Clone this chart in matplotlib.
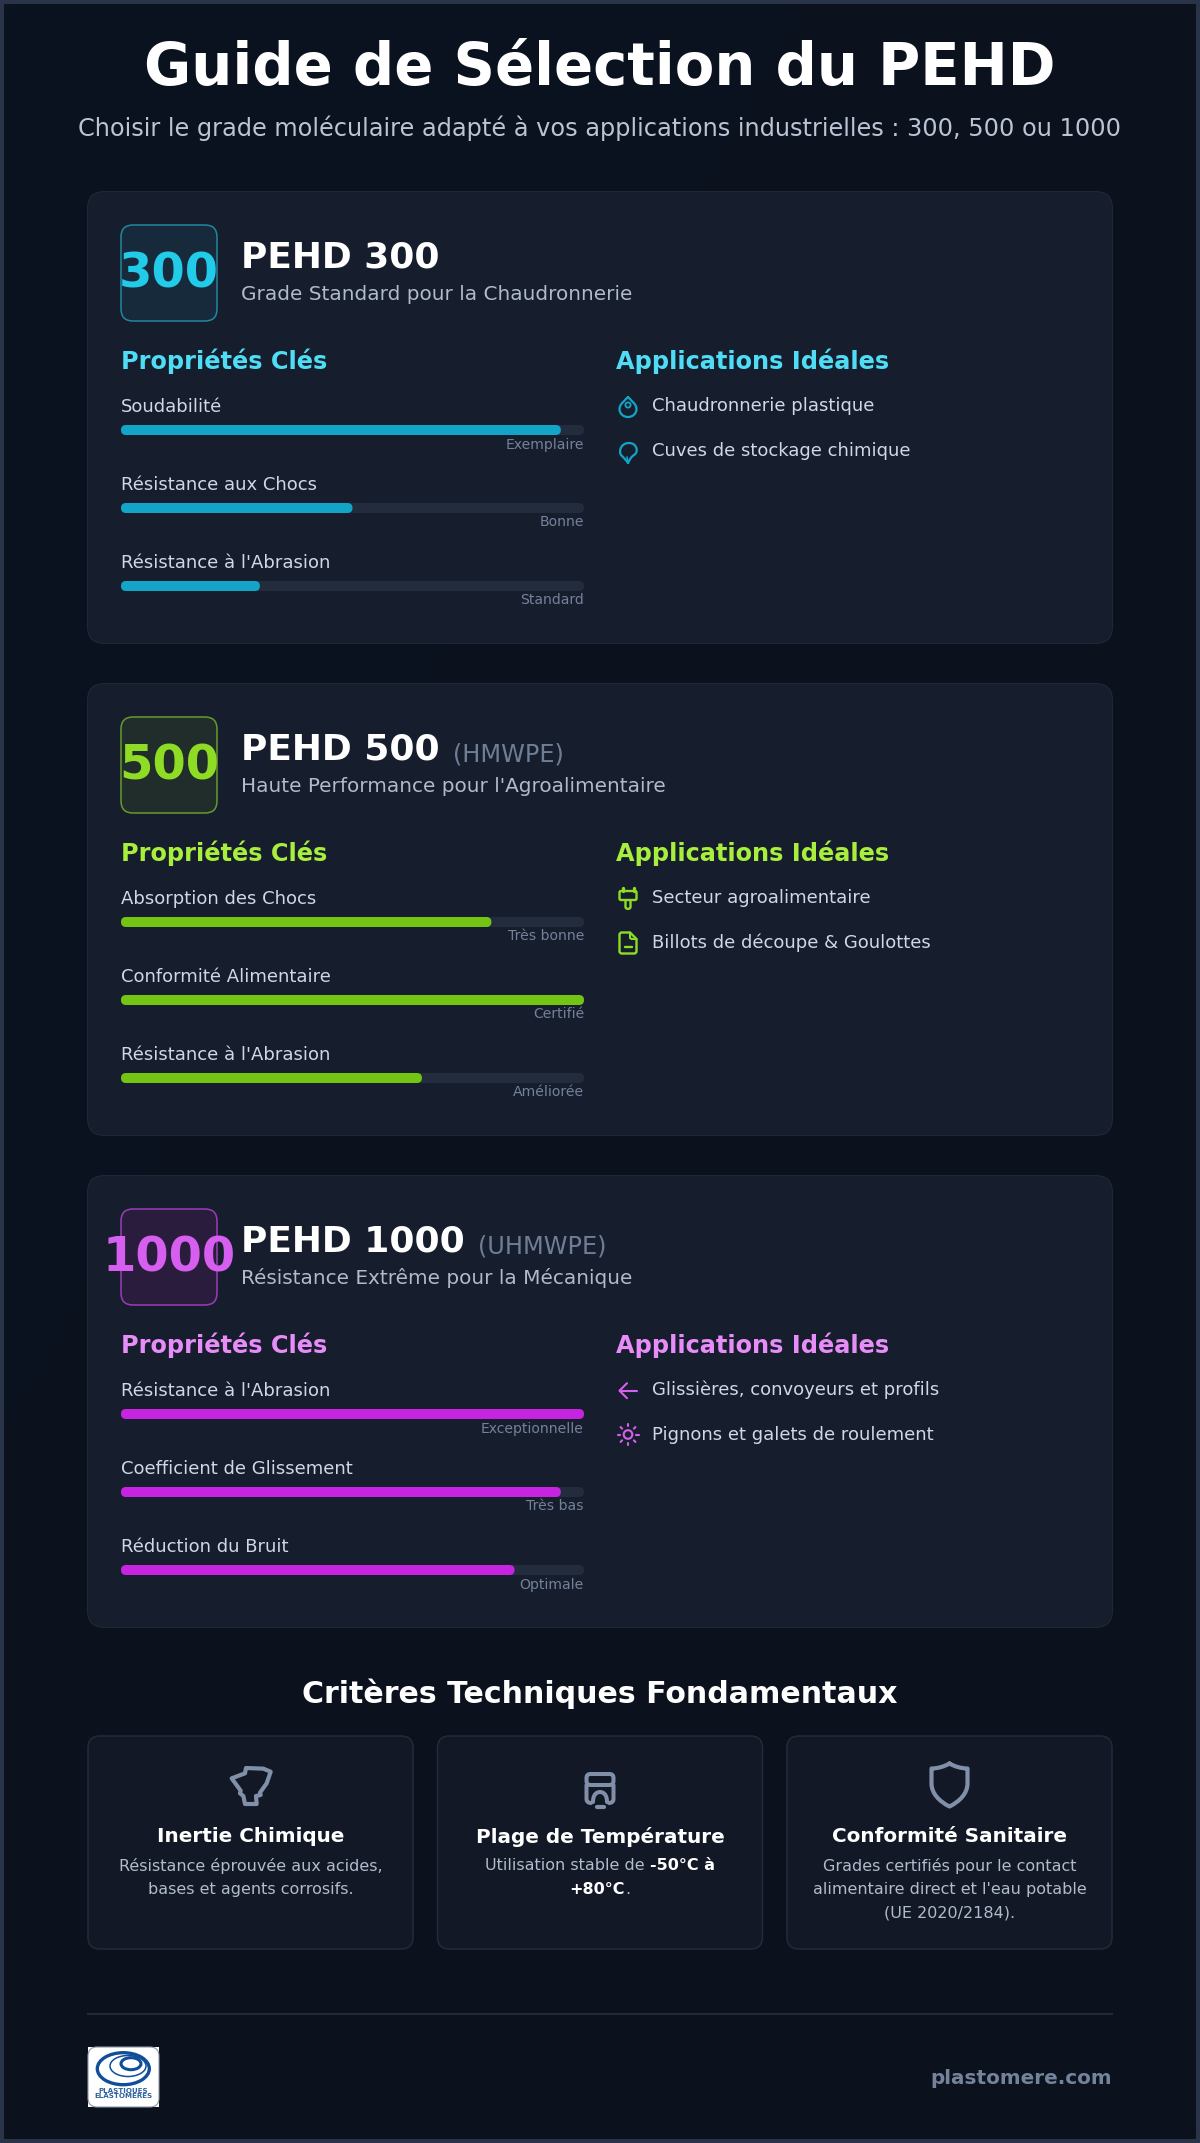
import numpy as np
import matplotlib
matplotlib.use("Agg")
import matplotlib.pyplot as plt
from matplotlib.patches import FancyBboxPatch, Rectangle, Circle, Ellipse, PathPatch
from matplotlib.path import Path

W, H = 1200, 2143

# data
title = "Guide de Sélection du PEHD"
subtitle = "Choisir le grade moléculaire adapté à vos applications industrielles : 300, 500 ou 1000"

grades = ["300", "500", "1000"]
names = ["PEHD 300", "PEHD 500", "PEHD 1000"]
aliases = ["", "(HMWPE)", "(UHMWPE)"]
taglines = ["Grade Standard pour la Chaudronnerie",
            "Haute Performance pour l'Agroalimentaire",
            "Résistance Extrême pour la Mécanique"]

labels_300 = ["Soudabilité", "Résistance aux Chocs", "Résistance à l'Abrasion"]
values_300 = [95, 50, 30]
ratings_300 = ["Exemplaire", "Bonne", "Standard"]

labels_500 = ["Absorption des Chocs", "Conformité Alimentaire", "Résistance à l'Abrasion"]
values_500 = [80, 100, 65]
ratings_500 = ["Très bonne", "Certifié", "Améliorée"]

labels_1000 = ["Résistance à l'Abrasion", "Coefficient de Glissement", "Réduction du Bruit"]
values_1000 = [100, 95, 85]
ratings_1000 = ["Exceptionnelle", "Très bas", "Optimale"]

apps_300 = ["Chaudronnerie plastique", "Cuves de stockage chimique"]
apps_500 = ["Secteur agroalimentaire", "Billots de découpe & Goulottes"]
apps_1000 = ["Glissières, convoyeurs et profils", "Pignons et galets de roulement"]

criteria = ["Inertie Chimique", "Plage de Température", "Conformité Sanitaire"]

# colours per grade: bar, heading, number, badge fill, badge edge
palette = [("#12a5c8", "#4fdcf5", "#22cbe8", "#162a3c", "#22879f"),
           ("#74c414", "#a8ee3c", "#8fdc24", "#212d2b", "#679a2c"),
           ("#c724e2", "#e88cf8", "#d75ff0", "#2a1c3c", "#9a3db8")]


def px(size):
    # css pixels to points
    return size * 72 / 100


fig = plt.figure(figsize=(W / 100, H / 100), dpi=100)
ax = fig.add_axes([0, 0, 1, 1])
ax.set_axis_off()
ax.set_xlim(0, W)
ax.set_ylim(H, 0)


def gradient(x0, y0, x1, y1, c0, c1, clip=None, zorder=1):
    # diagonal gradient, c0 top left to c1 bottom right
    a = np.array(matplotlib.colors.to_rgb(c0))
    b = np.array(matplotlib.colors.to_rgb(c1))
    u, v = np.meshgrid(np.linspace(0, 1, 64), np.linspace(0, 1, 64))
    t = ((u + v) / 2)[..., None]
    im = ax.imshow(a + (b - a) * t, extent=(x0, x1, y1, y0), aspect="auto",
                   interpolation="bilinear", zorder=zorder)
    if clip is not None:
        im.set_clip_path(clip)


def rounded(x, y, w, h, r, fc, ec="none", lw=1.0, zorder=2):
    p = FancyBboxPatch((x + r, y + r), w - 2 * r, h - 2 * r,
                       boxstyle=f"round,pad={r},rounding_size={r}",
                       fc=fc, ec=ec, lw=lw, zorder=zorder)
    ax.add_patch(p)
    return p


def txt(x, y, s, size, color, weight="normal", ha="left", zorder=5):
    return ax.text(x, y, s, fontsize=px(size), color=color, fontweight=weight,
                   ha=ha, va="center_baseline", family="DejaVu Sans", zorder=zorder)


def poly(cx, cy, verts, color, lw, closed=False):
    v = [(cx + a, cy + b) for a, b in verts]
    codes = [Path.MOVETO] + [Path.LINETO] * (len(v) - 1)
    if closed:
        v.append(v[0])
        codes.append(Path.CLOSEPOLY)
    ax.add_patch(PathPatch(Path(v, codes), fc="none", ec=color, lw=lw,
                           capstyle="round", joinstyle="round", zorder=6))


def curve(cx, cy, verts, color, lw):
    # verts: start point then triplets of bezier points
    v = [(cx + a, cy + b) for a, b in verts]
    codes = [Path.MOVETO] + [Path.CURVE4] * (len(v) - 1)
    ax.add_patch(PathPatch(Path(v, codes), fc="none", ec=color, lw=lw,
                           capstyle="round", joinstyle="round", zorder=6))


def ring(cx, cy, r, color, lw):
    ax.add_patch(Circle((cx, cy), r, fc="none", ec=color, lw=lw, zorder=6))


def icon_drop(cx, cy, c):
    curve(cx, cy, [(0, -10), (3, -6.5), (8.5, -3), (8.5, 2), (8.5, 6.7), (4.7, 10), (0, 10),
                   (-4.7, 10), (-8.5, 6.7), (-8.5, 2), (-8.5, -3), (-3, -6.5), (0, -10)], c, 1.6)
    ring(cx, cy - 2, 2.6, c, 1.3)


def icon_balloon(cx, cy, c):
    curve(cx, cy, [(0, 10), (-2, 7), (-4, 5), (-6, 3), (-10, 0), (-8, -10), (1, -10),
                   (9, -10), (11, -1), (6, 2), (3, 4), (2, 6), (0, 10)], c, 1.6)
    poly(cx, cy, [(0, 10), (-1, 4)], c, 1.2)


def icon_plug(cx, cy, c):
    rounded(cx - 8.5, cy - 7, 17, 9, 1.5, "none", c, 1.7, zorder=6)
    poly(cx, cy, [(-5.5, -7), (-5.5, -10)], c, 2.4)
    poly(cx, cy, [(5.5, -7), (5.5, -10)], c, 2.4)
    curve(cx, cy, [(-2.5, 2), (-2.5, 5), (-2.5, 7), (-2.5, 9), (-2.5, 11.5), (2.5, 11.5), (2.5, 9),
                   (2.5, 7), (2.5, 5), (2.5, 2)], c, 1.7)


def icon_file(cx, cy, c):
    poly(cx, cy, [(-8.5, -9), (-7, -10.5), (2, -10.5), (8.5, -4), (8.5, 9), (7, 10.5),
                  (-7, 10.5), (-8.5, 9)], c, 1.7, True)
    poly(cx, cy, [(2, -10.5), (2, -5), (3.5, -4), (8.5, -4)], c, 1.5)
    poly(cx, cy, [(-3.5, 3.5), (3.5, 3.5)], c, 1.7)


def icon_arrow(cx, cy, c):
    poly(cx, cy, [(8.5, 0), (-8.5, 0)], c, 1.5)
    poly(cx, cy, [(-1, -7.5), (-8.5, 0), (-1, 7.5)], c, 1.5)


def icon_sun(cx, cy, c):
    ring(cx, cy, 4.3, c, 1.5)
    for k in range(8):
        a = k * np.pi / 4
        poly(cx, cy, [(8.3 * np.cos(a), 8.3 * np.sin(a)), (10.5 * np.cos(a), 10.5 * np.sin(a))], c, 1.5)


def icon_flask(x0, y0, c):
    # traced in 3x crop coordinates
    pts = [(65, 85), (105, 70), (108, 54), (160, 56), (182, 65), (170, 100), (150, 128), (152, 135),
           (138, 138), (140, 162), (105, 162), (100, 138), (90, 130), (92, 122)]
    poly(x0, y0, [(a / 3, b / 3) for a, b in pts], c, 3.0, True)


def icon_machine(cx, cy, c):
    rounded(cx - 13.5, cy - 15, 27, 11, 4, "none", c, 2.9, zorder=6)
    curve(cx, cy, [(-13.5, -4), (-13.5, 2), (-13.5, 6), (-13.5, 10), (-13.5, 13), (-11, 14), (-9, 14)], c, 2.9)
    curve(cx, cy, [(13.5, -4), (13.5, 2), (13.5, 6), (13.5, 10), (13.5, 13), (11, 14), (9, 14)], c, 2.9)
    curve(cx, cy, [(-7, 13), (-7, 5), (-3, 3), (0, 3), (3, 3), (7, 5), (7, 13)], c, 2.9)
    poly(cx, cy, [(-3.5, 17.5), (3.5, 17.5)], c, 3.0)


def icon_shield(cx, cy, c):
    curve(cx, cy, [(0, -22), (5, -19), (12, -17), (18, -17), (18, -10), (18, -6), (18, -2),
                   (18, 8), (10, 16), (0, 21), (-10, 16), (-18, 8), (-18, -2),
                   (-18, -6), (-18, -10), (-18, -17), (-12, -17), (-5, -19), (0, -22)], c, 3.0)


app_icons = [(icon_drop, icon_balloon), (icon_plug, icon_file), (icon_arrow, icon_sun)]
icon_dy = [(1, 2.5), (0, 0.5), (0.7, 0)]

# background
gradient(0, 0, W, H, "#0c1320", "#0b121d", zorder=0)
ax.add_patch(Rectangle((2, 2), W - 4, H - 4, fc="none", ec="#2a3449", lw=2.9, zorder=9))

txt(W / 2, 62, title, 57.6, "#ffffff", "bold", "center")
txt(W / 2, 125.5, subtitle, 24, "#bac4d4", ha="center")

all_labels = [labels_300, labels_500, labels_1000]
all_values = [values_300, values_500, values_1000]
all_ratings = [ratings_300, ratings_500, ratings_1000]
all_apps = [apps_300, apps_500, apps_1000]

track_x, track_w = 121, 463
for i, grade in enumerate(grades):
    top = 192 + 492 * i
    bar_c, head_c, num_c, badge_c, badge_e = palette[i]
    card = rounded(88, top, 1024, 451, 16, "#161d2c", "#262e3e", 1.1)
    gradient(88, top, 1112, top + 451, "#171e2d", "#161e2e", clip=card, zorder=2.5)
    rounded(121, top + 33, 96, 96, 12, badge_c, badge_e, 1.1, zorder=3)
    txt(169, top + 77, grade, 48, num_c, "bold", "center")

    t = txt(241, top + 62.5, names[i], 36, "#ffffff", "bold")
    if aliases[i]:
        right = t.get_window_extent().x1
        txt(right + 13, top + 68, aliases[i], 24, "#6f7e96")
    txt(241, top + 100, taglines[i], 20, "#b0bbcc")

    txt(121, top + 166.5, "Propriétés Clés", 24, head_c, "bold")
    txt(616, top + 166.5, "Applications Idéales", 24, head_c, "bold")

    for k, (label, val, rating) in enumerate(zip(all_labels[i], all_values[i], all_ratings[i])):
        y = top + 78 * k
        txt(track_x, y + 212.5, label, 18, "#cfd8e4")
        rounded(track_x, y + 233, track_w, 10, 5, "#232c3c", zorder=3)
        rounded(track_x, y + 233, track_w * val / 100, 10, 5, bar_c, zorder=4)
        txt(track_x + track_w, y + 251, rating, 14, "#74819a", ha="right")

    for k, app in enumerate(all_apps[i]):
        y = top + 214 + 44.5 * k
        txt(652, y - 2, app, 18, "#cfd8e4")
        app_icons[i][k](628, y + icon_dy[i][k], bar_c if i == 0 else num_c)

# criteria section
txt(W / 2, 1691, "Critères Techniques Fondamentaux", 30, "#ffffff", "bold", "center")
crit_x = [88, 437.5, 787]
for x, name in zip(crit_x, criteria):
    rounded(x, 1736, 325, 213, 12, "#121825", "#232b3a", 1.1)
    txt(x + 162.5, 1835, name, 20, "#ffffff", "bold", "center")
ink = "#8190a8"
icon_flask(210, 1750, ink)
icon_machine(600, 1789, ink)
icon_shield(949.5, 1785.5, ink)

body = "#b0bbcc"
txt(88 + 162.5, 1864, "Résistance éprouvée aux acides,", 16, body, ha="center")
txt(88 + 162.5, 1888, "bases et agents corrosifs.", 16, body, ha="center")
a = txt(0, 1864, "Utilisation stable de ", 16, body)
a2 = txt(0, 1864, "-50°C à", 16, "#ffffff", "bold")
wa = a.get_window_extent().width
wb = a2.get_window_extent().width
start = 600 - (wa + wb) / 2
a.set_x(start)
a2.set_x(start + wa)
b1 = txt(0, 1888, "+80°C", 16, "#ffffff", "bold")
b2 = txt(0, 1888, ".", 16, body)
w1 = b1.get_window_extent().width
w2 = b2.get_window_extent().width
b1.set_x(600 - (w1 + w2) / 2)
b2.set_x(600 - (w1 + w2) / 2 + w1)
txt(787 + 162.5, 1864, "Grades certifiés pour le contact", 16, body, ha="center")
txt(787 + 162.5, 1888, "alimentaire direct et l'eau potable", 16, body, ha="center")
txt(787 + 162.5, 1912, "(UE 2020/2184).", 16, body, ha="center")

# footer
ax.plot([88, 1112], [2014, 2014], color="#232b3a", lw=1.4, zorder=3)
ax.add_patch(Rectangle((88, 2047), 71, 60, fc="#ffffff", ec="none", zorder=3))
rounded(88, 2047, 71, 60, 9, "none", "#8a97a8", 0.8, zorder=3.5)
blue = "#114e9a"
ax.add_patch(Ellipse((123.3, 2068.7), 52, 32, fc="none", ec=blue, lw=2.4, zorder=4))
ax.add_patch(Ellipse((128, 2066), 36, 21, fc="none", ec=blue, lw=1.1, zorder=4))
ax.add_patch(Ellipse((131, 2063.7), 20, 12, fc="none", ec=blue, lw=2.2, zorder=4))
txt(123.5, 2091, "PLASTIQUES", 7.2, "#2f639f", "bold", "center")
txt(123.5, 2096, "ELASTOMERES", 7.2, "#2f639f", "bold", "center")
txt(1112, 2077, "plastomere.com", 20, "#74839c", "bold", "right")

ax.set_xlim(0, W)
ax.set_ylim(H, 0)
fig.savefig("out.png", dpi=100, facecolor="#0a101c")
